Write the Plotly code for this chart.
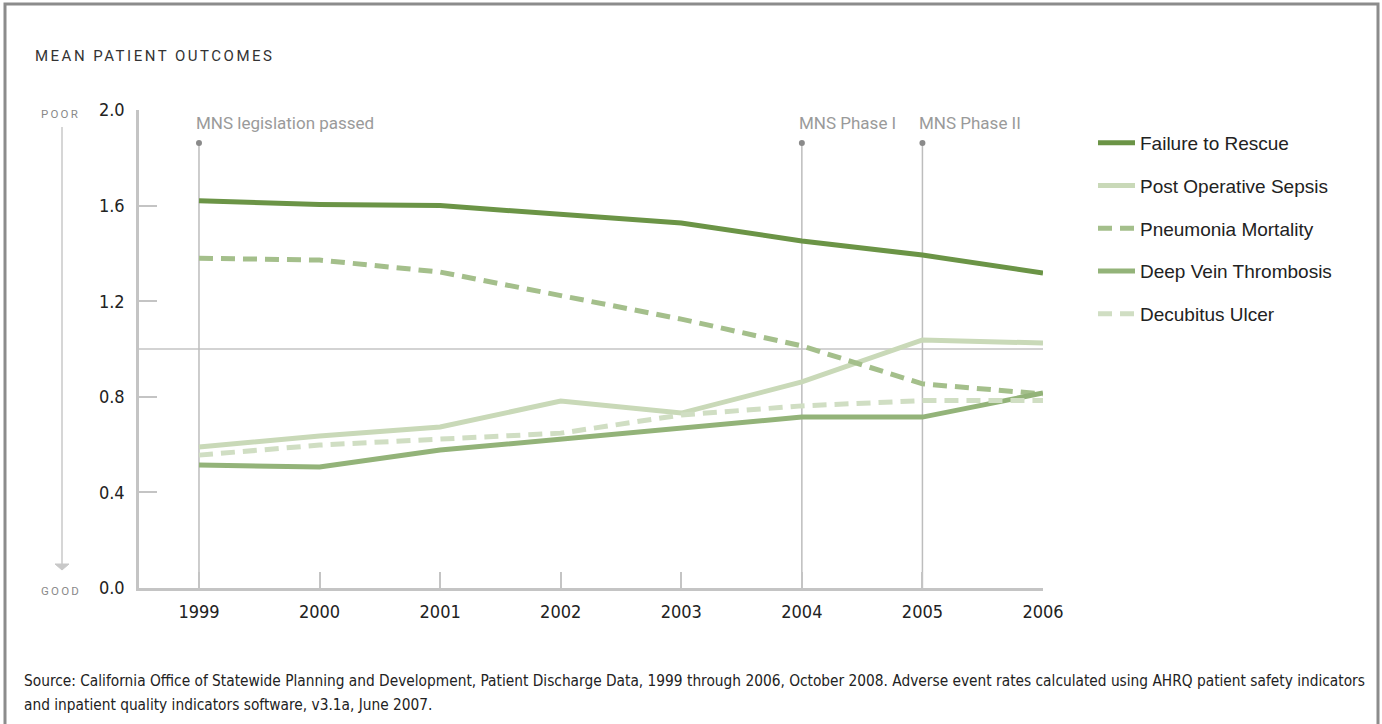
import plotly.graph_objects as go

W, H = 1382, 724

years = [1999, 2000, 2001, 2002, 2003, 2004, 2005, 2006]

failure_to_rescue = [1.62, 1.605, 1.60, 1.565, 1.527, 1.452, 1.393, 1.318]
post_op_sepsis = [0.59, 0.636, 0.674, 0.782, 0.732, 0.862, 1.038, 1.025]
pneumonia_mortality = [1.38, 1.372, 1.322, 1.222, 1.125, 1.013, 0.854, 0.812]
deep_vein_thrombosis = [0.515, 0.506, 0.577, 0.623, 0.674, 0.715, 0.715, 0.816]
decubitus_ulcer = [0.556, 0.598, 0.623, 0.648, 0.724, 0.762, 0.784, 0.784]

event_years = [1999, 2004, 2005]
event_labels = ["MNS legislation passed", "MNS Phase I", "MNS Phase II"]
event_marker_level = 1.862

y_ticks = [0.0, 0.4, 0.8, 1.2, 1.6, 2.0]
y_tick_text = ["0.0", "0.4", "0.8", "1.2", "1.6", "2.0"]

source_lines = [
    "Source: California Office of Statewide Planning and Development, Patient Discharge Data, 1999 through 2006, October 2008. Adverse event rates calculated using AHRQ patient safety indicators",
    "and inpatient quality indicators software, v3.1a, June 2007.",
]

series = [
    ("Failure to Rescue", failure_to_rescue, "#6b9446", "solid"),
    ("Post Operative Sepsis", post_op_sepsis, "#c9d9b8", "solid"),
    ("Pneumonia Mortality", pneumonia_mortality, "#a4bf8b", "14px,8px"),
    ("Deep Vein Thrombosis", deep_vein_thrombosis, "#93b379", "solid"),
    ("Decubitus Ulcer", decubitus_ulcer, "#d0dec3", "14px,8px"),
]

NARROW = "DejaVu Sans Condensed, Liberation Sans Narrow, sans-serif"
SANS = "Liberation Sans, Arial, sans-serif"
ROBOTO = "Roboto, Liberation Sans, sans-serif"


def px_x(p):
    return p / W


def px_y(p):
    return 1 - p / H


fig = go.Figure()

# vertical event lines with dot markers at the top
for yr in event_years:
    fig.add_shape(type="line", xref="x", yref="y", x0=yr, x1=yr, y0=0,
                  y1=event_marker_level, line=dict(color="#bdbdbd", width=1.5),
                  layer="below")
fig.add_trace(go.Scatter(x=event_years, y=[event_marker_level] * len(event_years),
                         mode="markers", marker=dict(color="#8a8a8a", size=6),
                         showlegend=False, hoverinfo="skip"))

# reference line at 1.0
fig.add_shape(type="line", xref="x domain", yref="y", x0=0, x1=1, y0=1.0, y1=1.0,
              line=dict(color="#c4c4c4", width=1.5), layer="below")

for i, (name, vals, color, dash) in enumerate(series):
    fig.add_trace(go.Scatter(x=years, y=vals, mode="lines", name=name,
                             legendgroup=f"g{i}",
                             line=dict(color=color, width=5, dash=dash)))

for yr, lab in zip(event_years, event_labels):
    fig.add_annotation(x=yr, y=2.0, xref="x", yref="y", text=lab, showarrow=False,
                       xanchor="left", yanchor="middle", xshift=-5, yshift=-13,
                       font=dict(family=ROBOTO, size=17, color="#9a9a9a"))

# title
fig.add_annotation(x=px_x(33), y=px_y(56), xref="paper", yref="paper",
                   text='<span style="letter-spacing:2.5px">MEAN PATIENT OUTCOMES</span>',
                   showarrow=False, xanchor="left", yanchor="middle",
                   font=dict(family=ROBOTO, size=15, color="#333333"))

# POOR / GOOD scale with arrow
fig.add_annotation(x=px_x(60), y=px_y(114), xref="paper", yref="paper",
                   text='<span style="letter-spacing:2.2px">POOR</span>',
                   showarrow=False, xanchor="center", yanchor="middle",
                   font=dict(family=ROBOTO, size=11.5, color="#8a8a8a"))
fig.add_annotation(x=px_x(61), y=px_y(591), xref="paper", yref="paper",
                   text='<span style="letter-spacing:2.2px">GOOD</span>',
                   showarrow=False, xanchor="center", yanchor="middle",
                   font=dict(family=ROBOTO, size=11.5, color="#8a8a8a"))
fig.add_shape(type="line", xref="paper", yref="paper", x0=px_x(62), x1=px_x(62),
              y0=px_y(127), y1=px_y(565), line=dict(color="#c8c8c8", width=1.5))
fig.add_shape(type="path", xref="paper", yref="paper",
              path=f"M {px_x(55)} {px_y(564)} L {px_x(69)} {px_y(564)} L {px_x(62)} {px_y(570)} Z",
              fillcolor="#c8c8c8", line=dict(color="#c8c8c8", width=1))

# source note, one annotation per line
for k, line_text in enumerate(source_lines):
    fig.add_annotation(x=px_x(22), y=px_y(681 + 24 * k), xref="paper", yref="paper",
                       text=line_text, showarrow=False,
                       xanchor="left", yanchor="middle", align="left",
                       font=dict(family=NARROW, size=15.3, color="#222222"))

# outer frame
fig.add_shape(type="rect", xref="paper", yref="paper", x0=px_x(5), x1=px_x(1378),
              y0=-0.2, y1=px_y(4), line=dict(color="#8c8c8c", width=3))

fig.update_layout(
    width=W, height=H,
    margin=dict(l=0, r=0, t=0, b=0, autoexpand=False),
    paper_bgcolor="white", plot_bgcolor="white",
    showlegend=True,
    legend=dict(x=px_x(1093), y=px_y(124), xanchor="left", yanchor="top",
                font=dict(family=SANS, size=19, color="#222222"),
                itemwidth=37, tracegroupgap=15, bgcolor="rgba(0,0,0,0)"),
    xaxis=dict(domain=[px_x(139), px_x(1043)], range=[1998.5025, 2006],
               tickvals=years, ticktext=[str(y) for y in years],
               ticks="inside", ticklen=16, tickcolor="#c4c4c4", tickwidth=1.5,
               showline=True, linecolor="#c4c4c4", linewidth=2.5,
               showgrid=False, zeroline=False, automargin=False,
               ticklabelstandoff=6,
               tickfont=dict(family=NARROW, size=18, color="#222222")),
    yaxis=dict(domain=[px_y(588), px_y(110)], range=[0, 2.0],
               tickvals=y_ticks, ticktext=y_tick_text,
               ticks="inside", ticklen=18, tickcolor="#c4c4c4", tickwidth=1.5,
               showline=True, linecolor="#c4c4c4", linewidth=2.5,
               showgrid=False, zeroline=False, automargin=False,
               ticklabelstandoff=8,
               tickfont=dict(family=NARROW, size=18, color="#222222")),
)

fig.write_html("out.html")
